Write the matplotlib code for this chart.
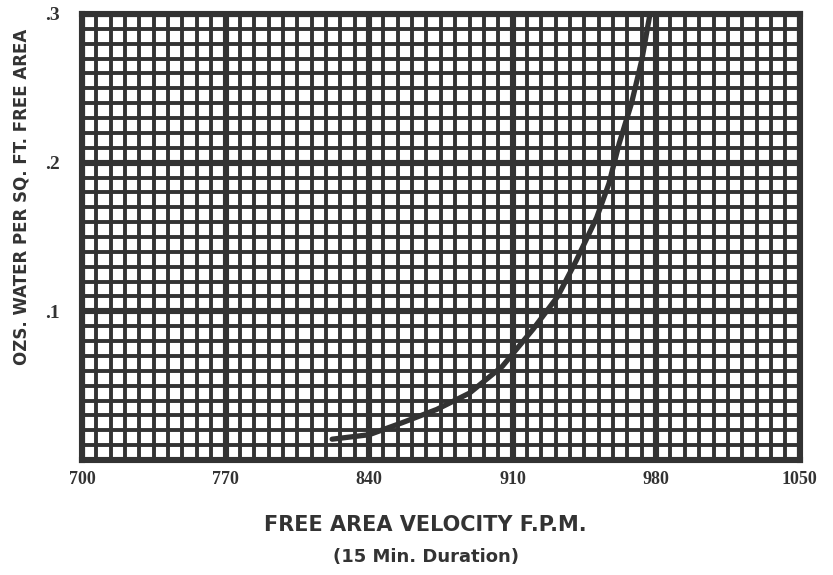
import numpy as np
import matplotlib.pyplot as plt

# curve
velocity = [822, 840, 856, 873, 889, 905, 920, 932, 941, 951, 957, 962, 968, 973, 977]
water = [0.014, 0.017, 0.025, 0.034, 0.045, 0.063, 0.088, 0.110, 0.134, 0.163,
         0.186, 0.213, 0.240, 0.269, 0.300]

x_ticks = [700, 770, 840, 910, 980, 1050]
x_labels = ['700', '770', '840', '910', '980', '1050']
y_ticks = [0.1, 0.2, 0.3]
y_labels = ['.1', '.2', '.3']

ink = '#333333'

fig = plt.figure(figsize=(8.33, 5.75), dpi=100)
ax = fig.add_axes([0.0984, 0.2, 0.8616, 0.7757])

ax.set_xlim(700, 1050)
ax.set_ylim(0, 0.3)

ax.set_xticks(x_ticks)
ax.set_xticklabels(x_labels, family='Liberation Serif', fontweight='bold', fontsize=13)
ax.set_yticks(y_ticks)
ax.set_yticklabels(y_labels, family='Liberation Serif', fontweight='bold', fontsize=14)
ax.set_xticks(np.arange(700, 1051, 7), minor=True)
ax.set_yticks(np.arange(0, 0.301, 0.01), minor=True)
ax.tick_params(which='both', length=0, colors=ink)
ax.tick_params(axis='x', pad=8)
ax.tick_params(axis='y', pad=16)

ax.grid(which='minor', color=ink, lw=2.8)
ax.grid(which='major', color=ink, lw=4.4)
ax.set_axisbelow(True)
for s in ax.spines.values():
    s.set_linewidth(4.4)
    s.set_color(ink)

ax.plot(velocity, water, color=ink, lw=3.8, solid_capstyle='round',
        solid_joinstyle='round', clip_on=False)

fig.text(0.511, 0.087, 'FREE AREA VELOCITY F.P.M.', ha='center', va='center',
         family='DejaVu Sans', fontweight='heavy', fontsize=15, color=ink)
fig.text(0.511, 0.031, '(15 Min. Duration)', ha='center', va='center',
         family='DejaVu Sans', fontweight='heavy', fontsize=13, color=ink)
fig.text(0.026, 0.657, 'OZS. WATER PER SQ. FT. FREE AREA', ha='center', va='center',
         rotation=90, family='DejaVu Sans', fontweight='heavy', fontsize=12, color=ink)

fig.savefig('out.png', dpi=100)
